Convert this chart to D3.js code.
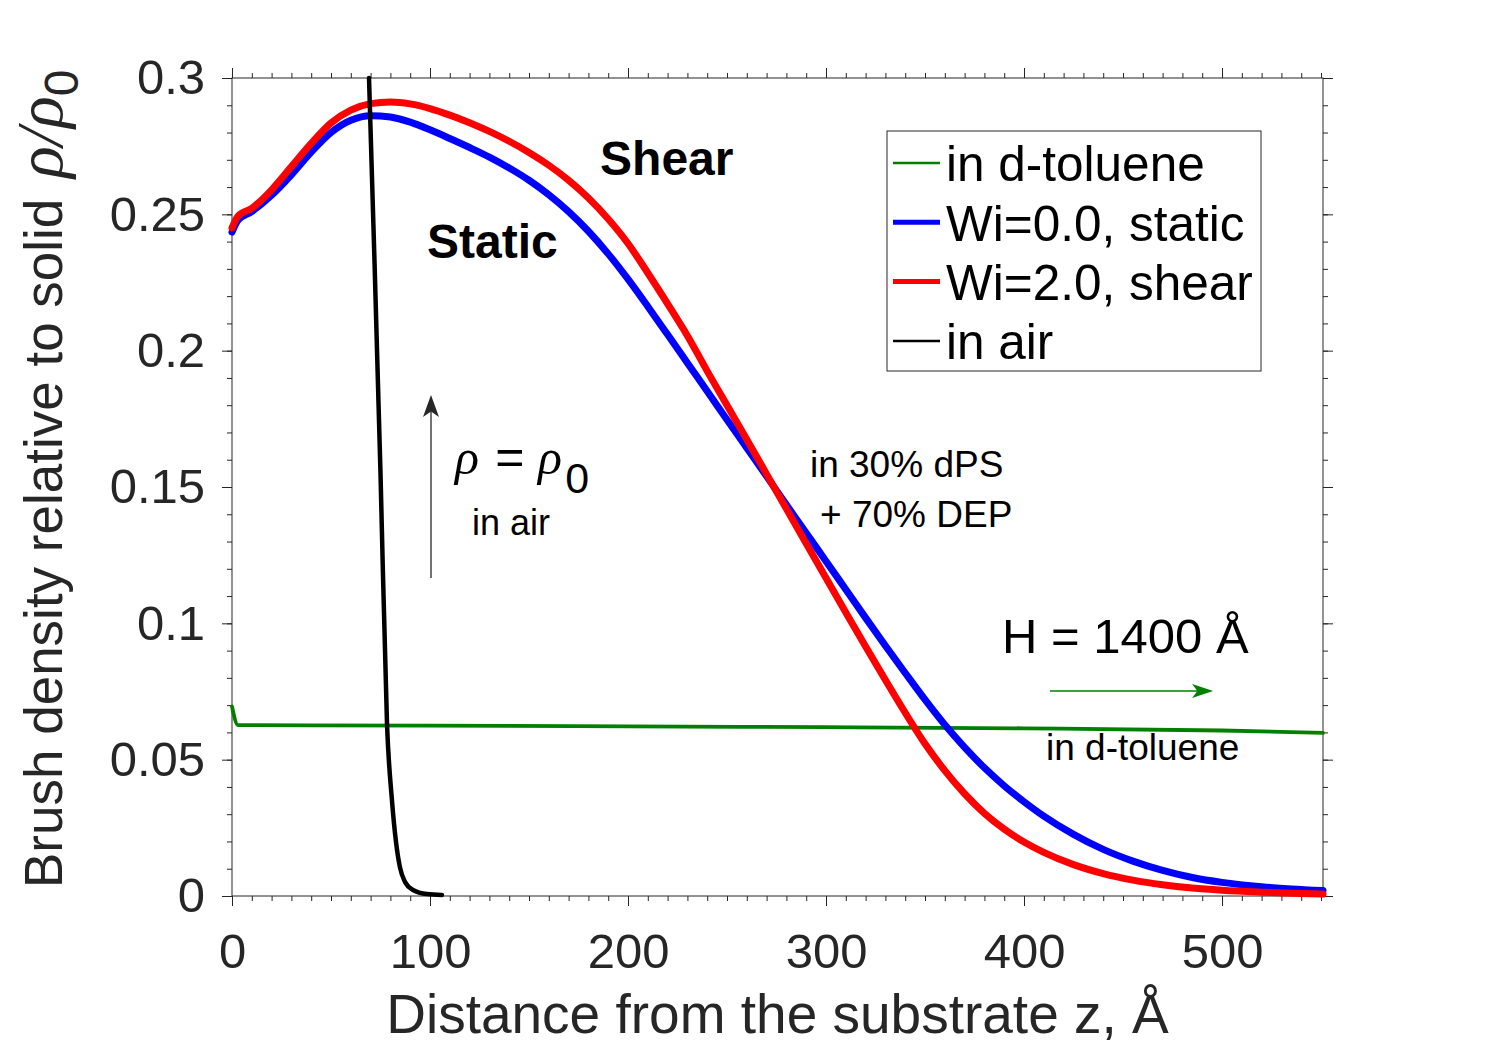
<!DOCTYPE html>
<html>
<head>
<meta charset="utf-8">
<script src="https://cdnjs.cloudflare.com/ajax/libs/d3/7.8.5/d3.min.js"></script>
<style>
  body { margin: 0; background: #fff; }
  svg { display: block; }
</style>
</head>
<body>
<svg id="chart" width="1503" height="1044"></svg>
<script>

// brush profiles, z in Angstrom
let zBrush = [0, 3, 10, 20, 30, 40, 50, 60, 70, 80, 90, 100, 110, 120, 130, 140, 150, 160, 170, 180, 190, 200, 210, 220, 230, 240, 250, 260, 270, 280, 290, 300, 310, 320, 330, 340, 350, 360, 370, 380, 390, 400, 410, 425, 440, 455, 470, 485, 500, 520, 535, 551];
let staticRho = [0.2435, 0.2478, 0.2510, 0.2570, 0.2645, 0.2728, 0.2800, 0.2845, 0.2862, 0.2857, 0.2838, 0.2810, 0.2778, 0.2745, 0.2710, 0.2670, 0.2625, 0.2572, 0.2510, 0.2438, 0.2355, 0.2262, 0.2162, 0.2059, 0.1955, 0.1851, 0.1747, 0.1643, 0.1539, 0.1435, 0.1331, 0.1228, 0.1124, 0.1020, 0.0918, 0.0818, 0.0720, 0.0628, 0.0545, 0.0470, 0.0404, 0.0346, 0.0293, 0.0226, 0.0171, 0.0128, 0.0094, 0.0068, 0.0050, 0.0034, 0.0026, 0.0020];
let shearRho  = [0.2450, 0.2493, 0.2522, 0.2590, 0.2675, 0.2760, 0.2835, 0.2882, 0.2906, 0.2912, 0.2905, 0.2888, 0.2864, 0.2836, 0.2804, 0.2768, 0.2727, 0.2680, 0.2625, 0.2560, 0.2483, 0.2393, 0.2285, 0.2172, 0.2055, 0.1925, 0.1800, 0.1674, 0.1547, 0.1420, 0.1293, 0.1166, 0.1040, 0.0915, 0.0792, 0.0672, 0.0558, 0.0460, 0.0375, 0.0303, 0.0245, 0.0198, 0.0160, 0.0115, 0.0082, 0.0058, 0.0041, 0.0029, 0.0021, 0.0014, 0.0010, 0.0007];

let zToluene = [0, 3, 100, 200, 300, 400, 500, 551];
let tolueneRho = [0.0695, 0.0627, 0.0625, 0.0622, 0.0619, 0.0615, 0.0607, 0.0598];

let zAir = [69.2, 72, 75, 78.3, 80.8, 82.8, 84.8, 87.5, 91.4, 98.5, 106];
let airRho = [0.300, 0.232, 0.155, 0.0627, 0.035, 0.020, 0.0106, 0.005, 0.0022, 0.0007, 0.0004];

let xTicks = [0, 100, 200, 300, 400, 500];
let yTicks = [0, 0.05, 0.1, 0.15, 0.2, 0.25, 0.3];
let yTickLabels = ['0', '0.05', '0.1', '0.15', '0.2', '0.25', '0.3'];
let legendNames = ['in d-toluene', 'Wi=0.0, static', 'Wi=2.0, shear', 'in air'];
let legendColors = ['#008000', '#0000ff', '#ff0000', '#000000'];

let sans = 'Liberation Sans, Arial, Helvetica, sans-serif';
let serif = 'Liberation Serif, Times New Roman, serif';
let ink = '#262626';

let svg = d3.select('#chart');

let x = d3.scaleLinear()
    .domain([0, 551])
    .range([232, 1323]);

let y = d3.scaleLinear()
    .domain([0, 0.3])
    .range([896, 78]);

// build series from the arrays
let series = [
  {name: legendNames[0], color: legendColors[0], width: 3.8, legendWidth: 2.5, pts: d3.zip(zToluene, tolueneRho)},
  {name: legendNames[1], color: legendColors[1], width: 7, legendWidth: 5, pts: d3.zip(zBrush, staticRho)},
  {name: legendNames[2], color: legendColors[2], width: 7, legendWidth: 5, pts: d3.zip(zBrush, shearRho)},
  {name: legendNames[3], color: legendColors[3], width: 4.5, legendWidth: 2.5, pts: d3.zip(zAir, airRho)}
];

//axes: minor + major ticks, all pointing out
function drawAxis(axis, tx, ty, values, size, labels) {
  let g = svg.append('g')
      .attr('transform', 'translate(' + tx + ',' + ty + ')')
      .call(axis.tickValues(values).tickSize(size).tickSizeOuter(0)
        .tickFormat(labels ? function(d, i) { return labels[i]; } : ''));
  g.select('.domain').remove();
  g.selectAll('line').attr('stroke', ink);
  g.attr('font-family', sans).attr('font-size', 49);
  g.selectAll('text').attr('fill', ink);
  return g;
}

let minorX = d3.range(0, 551, 10);
let minorY = d3.range(0, 31).map(function(d) { return d / 100; });

drawAxis(d3.axisBottom(x), 0, y(0), minorX, 5);
drawAxis(d3.axisTop(x), 0, y(0.3), minorX, 5);
drawAxis(d3.axisLeft(y), x(0), 0, minorY, 5);
drawAxis(d3.axisRight(y), x(551), 0, minorY, 5);

let gxb = drawAxis(d3.axisBottom(x), 0, y(0), xTicks, 10, xTicks.map(String));
gxb.selectAll('text').attr('y', 0).attr('dy', 0).attr('transform', 'translate(0,72)');
drawAxis(d3.axisTop(x), 0, y(0.3), xTicks, 10);
drawAxis(d3.axisLeft(y).tickPadding(17), x(0), 0, yTicks, 10, yTickLabels);
drawAxis(d3.axisRight(y), x(551), 0, yTicks, 10);

svg.append('rect')
    .attr('x', x(0))
    .attr('y', y(0.3))
    .attr('width', x(551) - x(0))
    .attr('height', y(0) - y(0.3))
    .attr('fill', 'none')
    .attr('stroke', ink)
    .attr('stroke-width', 1);

// curves
let line = d3.line()
    .x(function(d) { return x(d[0]); })
    .y(function(d) { return y(d[1]); })
    .curve(d3.curveMonotoneX);

svg.append('g')
  .selectAll('path')
  .data(series)
  .enter().append('path')
    .attr('d', function(d) { return line(d.pts); })
    .attr('fill', 'none')
    .attr('stroke', function(d) { return d.color; })
    .attr('stroke-width', function(d) { return d.width; })
    .attr('stroke-linecap', 'round')
    .attr('stroke-linejoin', 'round');

// axis titles
svg.append('text')
    .attr('x', (x(0) + x(551)) / 2)
    .attr('y', 1033)
    .attr('text-anchor', 'middle')
    .attr('font-family', sans)
    .attr('font-size', 55)
    .attr('fill', ink)
    .text('Distance from the substrate z, Å');

let yl = svg.append('text')
    .attr('transform', 'translate(62,888) rotate(-90)')
    .attr('font-family', sans)
    .attr('font-size', 53)
    .attr('fill', ink);
yl.append('tspan').text('Brush density relative to solid ');
yl.append('tspan')
    .attr('font-family', serif)
    .attr('font-style', 'italic')
    .attr('font-size', 66)
    .attr('dx', 6)
    .text('ρ/ρ');
yl.append('tspan')
    .attr('dy', 16)
    .attr('font-size', 48)
    .text('0');

// legend
let lg = svg.append('g').attr('transform', 'translate(887,131)');
lg.append('rect')
    .attr('width', 374)
    .attr('height', 240)
    .attr('fill', '#fff')
    .attr('stroke', ink)
    .attr('stroke-width', 1);

let rows = lg.selectAll('g.row')
  .data(series)
  .enter().append('g')
    .attr('class', 'row')
    .attr('transform', function(d, i) { return 'translate(0,' + (32 + i * 59.3) + ')'; });
rows.append('line')
    .attr('x1', 6).attr('x2', 53)
    .attr('stroke', function(d) { return d.color; })
    .attr('stroke-width', function(d) { return d.legendWidth; });
rows.append('text')
    .attr('x', 59)
    .attr('dy', '0.37em')
    .attr('font-family', sans)
    .attr('font-size', 49.5)
    .attr('fill', '#000')
    .text(function(d) { return d.name; });

// annotations (positions in data units)
function note(z, v, str, size, weight, color) {
  return svg.append('text')
      .attr('x', x(z))
      .attr('y', y(v))
      .attr('font-family', sans)
      .attr('font-size', size)
      .attr('font-weight', weight || 'normal')
      .attr('fill', color || '#000')
      .text(str);
}

note(185.9, 0.2644, 'Shear', 48, 'bold');
note(98.5, 0.234, 'Static', 48, 'bold');
note(291.9, 0.1537, 'in 30% dPS', 37);
note(297, 0.1353, '+ 70% DEP', 37);
note(388.9, 0.0891, 'H = 1400 Å', 49);
note(411.1, 0.0499, 'in d-toluene', 37);
note(121.2, 0.1324, 'in air', 36);

// rho = rho_0, each piece placed along the baseline
let eqZ = [112.6, 133, 154.5, 168.3];
let eqParts = ['ρ', '=', 'ρ', '0'];
svg.append('g').selectAll('text')
  .data(eqParts)
  .enter().append('text')
    .attr('x', function(d, i) { return x(eqZ[i]); })
    .attr('y', function(d, i) { return y(i == 3 ? 0.1478 : 0.1548); })
    .attr('font-family', function(d, i) { return (i % 2 == 0) ? serif : sans; })
    .attr('font-style', function(d, i) { return (i % 2 == 0) ? 'italic' : 'normal'; })
    .attr('font-size', function(d, i) { return i == 3 ? 43 : 50; })
    .attr('fill', '#000')
    .text(function(d) { return d; });

// arrows
function arrow(z1, v1, z2, v2, color, w, len, half) {
  let x1 = x(z1), y1 = y(v1), x2 = x(z2), y2 = y(v2);
  let a = Math.atan2(y2 - y1, x2 - x1);
  let c = Math.cos(a), s = Math.sin(a);
  svg.append('line')
      .attr('x1', x1).attr('y1', y1)
      .attr('x2', x2 - c * len * 0.7).attr('y2', y2 - s * len * 0.7)
      .attr('stroke', color)
      .attr('stroke-width', w);
  let bx = x2 - c * len, by = y2 - s * len;
  let nx = x2 - c * len * 0.75, ny = y2 - s * len * 0.75;
  svg.append('path')
      .attr('d', 'M' + x2 + ',' + y2 +
        'L' + (bx - s * half) + ',' + (by + c * half) +
        'L' + nx + ',' + ny +
        'L' + (bx + s * half) + ',' + (by - c * half) + 'Z')
      .attr('fill', color);
}

arrow(100.5, 0.1166, 100.5, 0.1837, ink, 1.3, 22, 8);
arrow(413.1, 0.0752, 495.5, 0.0752, '#008000', 1.5, 21, 7);

</script>
</body>
</html>
